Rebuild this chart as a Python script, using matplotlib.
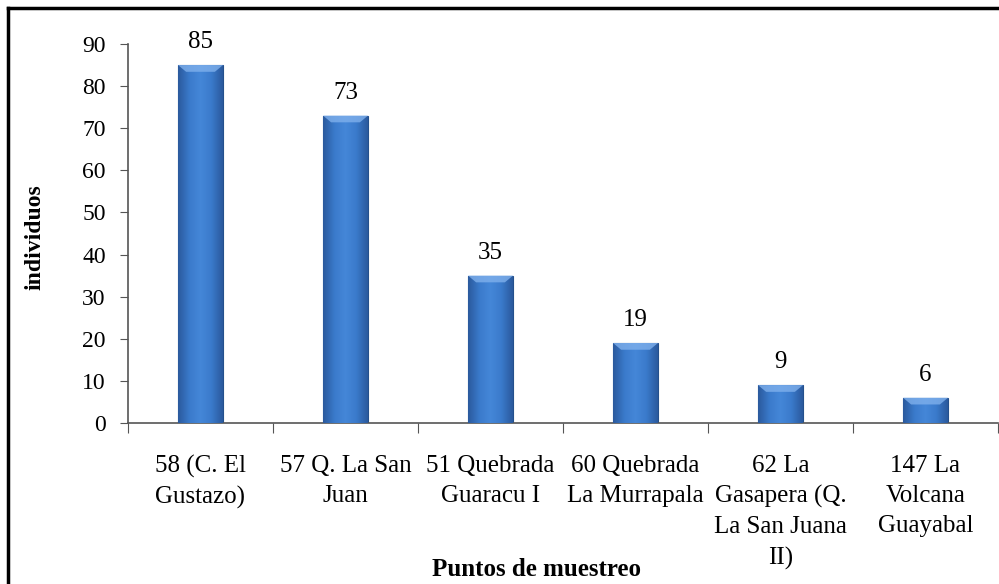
import matplotlib
matplotlib.use("Agg")
import matplotlib.pyplot as plt
import numpy as np
from matplotlib.lines import Line2D
from matplotlib.colors import LinearSegmentedColormap

categories = ["58 (C. El\nGustazo)", "57 Q. La San\nJuan", "51 Quebrada\nGuaracu I",
              "60 Quebrada\nLa Murrapala", "62 La\nGasapera (Q.\nLa San Juana\nII)",
              "147 La\nVolcana\nGuayabal"]
values = [85, 73, 35, 19, 9, 6]
yticks = [0, 10, 20, 30, 40, 50, 60, 70, 80, 90]
ylabel = "individuos"
xlabel = "Puntos de muestreo"

W, H = 999, 584
fig = plt.figure(figsize=(W / 100, H / 100), dpi=100)
fig.patch.set_facecolor("white")
serif = ["Liberation Serif", "DejaVu Serif"]

ax = fig.add_axes([128 / W, 1 - 423 / H, (998 - 128) / W, (423 - 44) / H])
x = np.arange(len(values))
bw = 0.31
bars = ax.bar(x, values, width=bw, color="#3a76c6", edgecolor="#24508c", linewidth=0.8, zorder=2)

# gradient fill clipped to each bar
cmap = LinearSegmentedColormap.from_list("b", ["#2b5a9e", "#3a7acb", "#4587d8", "#3a7acb", "#2b5a9e"])
grad = np.linspace(0, 1, 64).reshape(1, -1)
for b in bars:
    x0, w, h = b.get_x(), b.get_width(), b.get_height()
    im = ax.imshow(grad, extent=[x0, x0 + w, 0, h], aspect="auto", cmap=cmap, zorder=3)
    im.set_clip_path(b)
    ax.fill([x0, x0 + w, x0 + w * 0.82, x0 + w * 0.18], [h, h, h - 1.6, h - 1.6],
            color="#7fb0ec", alpha=0.8, zorder=4, lw=0)

for xi, v in zip(x, values):
    ax.annotate(str(v), (xi, v), xytext=(0, 12), textcoords="offset points",
                ha="center", va="baseline", fontsize=18, family=serif)

ax.set_xlim(-0.5, len(values) - 0.5)
ax.set_ylim(0, 90)
ax.set_yticks(yticks)
ax.set_yticklabels([str(t) for t in yticks], fontsize=17, family=serif)
ax.set_xticks(np.arange(len(values) + 1) - 0.5, minor=False)
ax.set_xticklabels([""] * (len(values) + 1))
ax.set_xticks(x, minor=True)
ax.set_xticklabels(categories, minor=True, fontsize=18, family=serif, linespacing=1.47)
ax.tick_params(axis="x", which="minor", length=0, pad=23)
ax.tick_params(axis="x", which="major", length=7, direction="out", color="#555555")
ax.tick_params(axis="y", length=6, direction="out", color="#555555", pad=10)

for s in ["top", "right"]:
    ax.spines[s].set_visible(False)
for s in ["left", "bottom"]:
    ax.spines[s].set_color("#555555")
    ax.spines[s].set_linewidth(1.2)

fig.text(35 / W, 1 - 237 / H, ylabel, rotation=90, ha="center", va="center",
         fontsize=17, fontweight="bold", family=serif)
fig.text(536 / W, 1 - 570 / H, xlabel, ha="center", va="center",
         fontsize=18, fontweight="bold", family=serif)

# outer frame (left and top edges visible)
fig.add_artist(Line2D([8 / W, 8 / W], [1 - 8 / H, -0.05], color="black", lw=2.5,
                      transform=fig.transFigure))
fig.add_artist(Line2D([8 / W, 1.05], [1 - 8 / H, 1 - 8 / H], color="black", lw=2.5,
                      transform=fig.transFigure))

fig.savefig("out.png", dpi=100)
